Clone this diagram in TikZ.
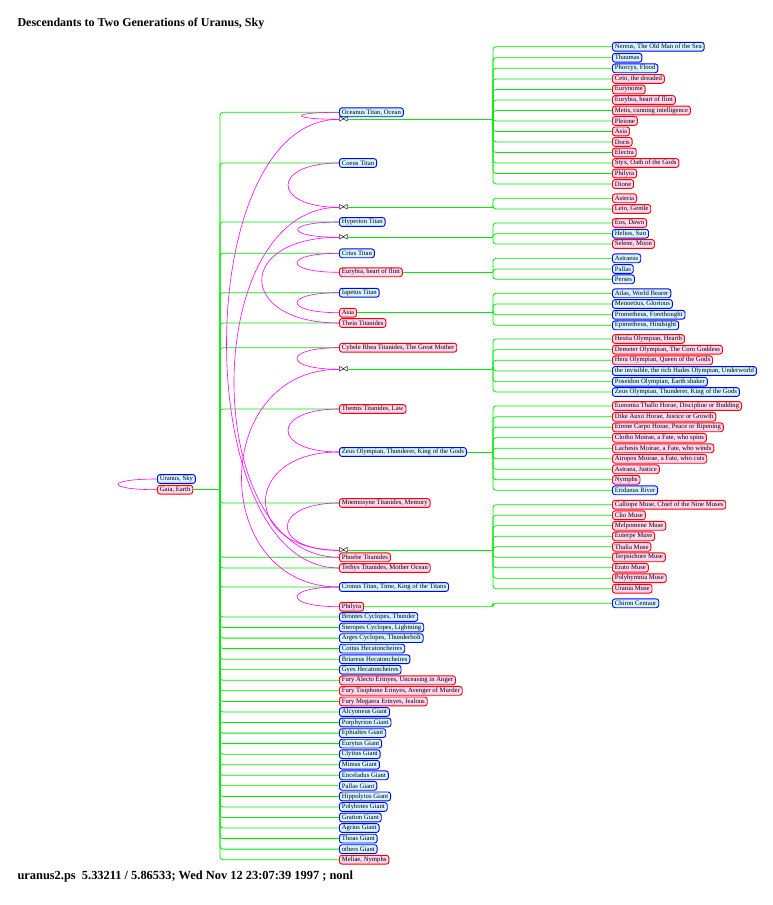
\documentclass[tikz,border=0pt]{standalone}
\usepackage{fontspec}
\setmainfont{Liberation Serif}
\usetikzlibrary{positioning}
\definecolor{skyfill}{RGB}{214,246,255}
\definecolor{earthfill}{RGB}{255,214,240}
\definecolor{kingreen}{RGB}{0,235,0}
\definecolor{matemag}{RGB}{255,0,255}
\tikzset{
  person/.style={anchor=west, rounded corners=2.5pt, line width=0.9pt, inner xsep=2.4pt, inner ysep=0pt, minimum height=8.8pt, font=\fontsize{6.7}{7}\selectfont},
  god/.style={person, draw=blue, fill=skyfill},
  goddess/.style={person, draw=red, fill=earthfill},
  wed/.style={anchor=west, inner sep=0pt, font=\fontsize{9.5}{9.5}\selectfont\boldmath},
  kin/.style={draw=kingreen, line width=0.8pt, rounded corners=3pt},
  mate/.style={draw=matemag, line width=0.6pt},
}

\begin{document}
\begin{tikzpicture}[x=1pt,y=-1pt]
                \def\rootx{220}
                \def\midx{339}
                \def\stemx{493}
                \def\farx{612}
                \useasboundingbox (0,0) rectangle (772,905);
                \node[anchor=base west, font=\bfseries\fontsize{12}{14}\selectfont] (title) at (14,26.7) {Descendants to Two Generations of Uranus, Sky};
                \node[anchor=base west, font=\bfseries\fontsize{12.4}{14}\selectfont] (stamp) at (14,879.3) {uranus2.ps\ \ 5.33211 / 5.86533; Wed Nov 12 23:07:39 1997 ; nonl};
                % first generation
                \node[god] (uranus) at (157,479) {Uranus, Sky};
                \node[goddess] (gaia) at (157,489.7) {Gaia, Earth};
                \coordinate (root) at (\rootx,489.7);
                % children of Uranus and Gaia
                \node[god] (oceanus) at (\midx,112.3) {Oceanus Titan, Ocean};
                \node[wed] (wOT) at (\midx,119.3) {$\bowtie$};
                \node[god] (coeus) at (\midx,163) {Coeus Titan};
                \node[wed] (wCP) at (\midx,207.3) {$\bowtie$};
                \node[god] (hyperion) at (\midx,222) {Hyperion Titan};
                \node[wed] (wHT) at (\midx,237.3) {$\bowtie$};
                \node[god] (crius) at (\midx,253.3) {Crius Titan};
                \node[goddess] (eurybia) at (\midx,272.3) {Eurybia, heart of flint};
                \node[god] (iapetus) at (\midx,292.7) {Iapetus Titan};
                \node[goddess] (asia) at (\midx,312.7) {Asia};
                \node[goddess] (theia) at (\midx,323) {Theia Titanides};
                \node[goddess] (rhea) at (\midx,347.7) {Cybele Rhea Titanides, The Great Mother};
                \node[wed] (wCR) at (\midx,369.3) {$\bowtie$};
                \node[goddess] (themis) at (\midx,409) {Themis Titanides, Law};
                \node[god] (zeus) at (\midx,452) {Zeus Olympian, Thunderer, King of the Gods};
                \node[goddess] (mnemosyne) at (\midx,503) {Mnemosyne Titanides, Memory};
                \node[wed] (wZM) at (\midx,550.3) {$\bowtie$};
                \node[goddess] (phoebe) at (\midx,557.3) {Phoebe Titanides};
                \node[goddess] (tethys) at (\midx,568) {Tethys Titanides, Mother Ocean};
                \node[god] (cronus) at (\midx,587) {Cronus Titan, Time, King of the Titans};
                \node[goddess] (philyra) at (\midx,606.7) {Philyra};
                \node[god] (brontes) at (\midx,617) {Brontes Cyclopes, Thunder};
                \node[god] (steropes) at (\midx,627.5) {Steropes Cyclopes, Lightning};
                \node[god] (arges) at (\midx,638.1) {Arges Cyclopes, Thunderbolt};
                \node[god] (cottus) at (\midx,648.6) {Cottus Hecatoncheires};
                \node[god] (briareus) at (\midx,659.2) {Briareus Hecatoncheires};
                \node[god] (gyes) at (\midx,669.7) {Gyes Hecatoncheires};
                \node[goddess] (alecto) at (\midx,680.3) {Fury Alecto Erinyes, Unceasing in Anger};
                \node[goddess] (tisiphone) at (\midx,690.8) {Fury Tisiphone Erinyes, Avenger of Murder};
                \node[goddess] (megaera) at (\midx,701.4) {Fury Megaera Erinyes, Jealous};
                \node[god] (alcyoneus) at (\midx,712) {Alcyoneus Giant};
                \node[god] (porphyrion) at (\midx,722.5) {Porphyrion Giant};
                \node[god] (ephialtes) at (\midx,733.1) {Ephialtes Giant};
                \node[god] (eurytus) at (\midx,743.6) {Eurytus Giant};
                \node[god] (clytius) at (\midx,754.2) {Clytius Giant};
                \node[god] (mimas) at (\midx,764.7) {Mimas Giant};
                \node[god] (enceladus) at (\midx,775.3) {Enceladus Giant};
                \node[god] (pallas) at (\midx,785.8) {Pallas Giant};
                \node[god] (hippolytus) at (\midx,796.4) {Hippolytus Giant};
                \node[god] (polybotes) at (\midx,806.9) {Polybotes Giant};
                \node[god] (gration) at (\midx,817.5) {Gration Giant};
                \node[god] (agrius) at (\midx,828) {Agrius Giant};
                \node[god] (thoas) at (\midx,838.6) {Thoas Giant};
                \node[god] (others) at (\midx,849.1) {others Giant};
                \node[goddess] (meliae) at (\midx,859.7) {Meliae, Nymphs};
                % grandchildren
                \node[god] (nereus) at (\farx,46.7) {Nereus, The Old Man of the Sea};
                \node[god] (thaumas) at (\farx,57.7) {Thaumas};
                \node[god] (phorcys) at (\farx,68.3) {Phorcys, Flood};
                \node[goddess] (ceto) at (\farx,78.9) {Ceto, the dreaded};
                \node[goddess] (eurynome) at (\farx,89.5) {Eurynome};
                \node[goddess] (eurybiaO) at (\farx,100) {Eurybia, heart of flint};
                \node[goddess] (metis) at (\farx,110.5) {Metis, cunning intelligence};
                \node[goddess] (pleione) at (\farx,120.9) {Pleione};
                \node[goddess] (asiaO) at (\farx,131.4) {Asia};
                \node[goddess] (doris) at (\farx,141.9) {Doris};
                \node[goddess] (electra) at (\farx,152.5) {Electra};
                \node[goddess] (styx) at (\farx,163) {Styx, Oath of the Gods};
                \node[goddess] (philyraO) at (\farx,173.5) {Philyra};
                \node[goddess] (dione) at (\farx,184) {Dione};
                \node[goddess] (asteria) at (\farx,198.3) {Asteria};
                \node[goddess] (leto) at (\farx,209) {Leto, Gentle};
                \node[goddess] (eos) at (\farx,223) {Eos, Dawn};
                \node[god] (helios) at (\farx,233.7) {Helios, Sun};
                \node[goddess] (selene) at (\farx,244) {Selene, Moon};
                \node[god] (astraeus) at (\farx,258.3) {Astraeus};
                \node[god] (pallasC) at (\farx,269) {Pallas};
                \node[god] (perses) at (\farx,279.3) {Perses};
                \node[god] (atlas) at (\farx,293.3) {Atlas, World Bearer};
                \node[god] (menoetius) at (\farx,304) {Menoetius, Glorious};
                \node[god] (prometheus) at (\farx,314.7) {Prometheus, Forethought};
                \node[god] (epimetheus) at (\farx,325.3) {Epimetheus, Hindsight};
                \node[goddess] (hestia) at (\farx,339) {Hestia Olympian, Hearth};
                \node[goddess] (demeter) at (\farx,349.7) {Demeter Olympian, The Corn Goddess};
                \node[goddess] (hera) at (\farx,360.3) {Hera Olympian, Queen of the Gods};
                \node[god] (hades) at (\farx,371) {the invisible, the rich Hades Olympian, Underworld};
                \node[god] (poseidon) at (\farx,381.7) {Poseidon Olympian, Earth shaker};
                \node[god] (zeusK) at (\farx,392) {Zeus Olympian, Thunderer, King of the Gods};
                \node[goddess] (eunomia) at (\farx,406) {Eunomia Thallo Horae, Discipline or Budding};
                \node[goddess] (dike) at (\farx,416.8) {Dike Auxo Horae, Justice or Growth};
                \node[goddess] (eirene) at (\farx,427.3) {Eirene Carpo Horae, Peace or Ripening};
                \node[goddess] (clotho) at (\farx,437.8) {Clotho Moirae, a Fate, who spins};
                \node[goddess] (lachesis) at (\farx,448.3) {Lachesis Moirae, a Fate, who winds};
                \node[goddess] (atropos) at (\farx,458.8) {Atropos Moirae, a Fate, who cuts};
                \node[goddess] (astraea) at (\farx,469.3) {Astraea, Justice};
                \node[goddess] (nymphs) at (\farx,479.8) {Nymphs};
                \node[god] (eridanus) at (\farx,490.3) {Eridanus River};
                \node[goddess] (calliope) at (\farx,504.7) {Calliope Muse, Chief of the Nine Muses};
                \node[goddess] (clio) at (\farx,515.2) {Clio Muse};
                \node[goddess] (melpomene) at (\farx,525.8) {Melpomene Muse};
                \node[goddess] (euterpe) at (\farx,536.3) {Euterpe Muse};
                \node[goddess] (thalia) at (\farx,546.8) {Thalia Muse};
                \node[goddess] (terpsichore) at (\farx,557.3) {Terpsichore Muse};
                \node[goddess] (erato) at (\farx,567.7) {Erato Muse};
                \node[goddess] (polyhymnia) at (\farx,578.2) {Polyhymnia Muse};
                \node[goddess] (urania) at (\farx,588.7) {Urania Muse};
                \node[god] (chiron) at (\farx,603.3) {Chiron Centaur};
                % stems
                \coordinate (sOT) at (\stemx,119.3);
                \coordinate (sCP) at (\stemx,207.3);
                \coordinate (sHT) at (\stemx,237.3);
                \coordinate (sCE) at (\stemx,272.3);
                \coordinate (sIA) at (\stemx,312.7);
                \coordinate (sCR) at (\stemx,369.3);
                \coordinate (sZT) at (\stemx,452);
                \coordinate (sZM) at (\stemx,550.3);
                \coordinate (sCP2) at (\stemx,606.7);
                % green lines, Uranus and Gaia
                \draw[kin] (gaia.east) -- (root);
                \foreach \kid in {oceanus,coeus,hyperion,crius,iapetus,theia,rhea,themis,mnemosyne,phoebe,tethys,cronus,brontes,steropes,arges,cottus,briareus,gyes,alecto,tisiphone,megaera,alcyoneus,porphyrion,ephialtes,eurytus,clytius,mimas,enceladus,pallas,hippolytus,polybotes,gration,agrius,thoas,others,meliae}
                    \draw[kin] (root) |- (\kid.west);
                % green lines, second generation
                \draw[kin] (wOT.east) -- (sOT);
                \foreach \kid in {nereus,thaumas,phorcys,ceto,eurynome,eurybiaO,metis,pleione,asiaO,doris,electra,styx,philyraO,dione}
                    \draw[kin] (sOT) |- (\kid.west);
                \draw[kin] (wCP.east) -- (sCP);
                \foreach \kid in {asteria,leto}
                    \draw[kin] (sCP) |- (\kid.west);
                \draw[kin] (wHT.east) -- (sHT);
                \foreach \kid in {eos,helios,selene}
                    \draw[kin] (sHT) |- (\kid.west);
                \draw[kin] (eurybia.east) -- (sCE);
                \foreach \kid in {astraeus,pallasC,perses}
                    \draw[kin] (sCE) |- (\kid.west);
                \draw[kin] (asia.east) -- (sIA);
                \foreach \kid in {atlas,menoetius,prometheus,epimetheus}
                    \draw[kin] (sIA) |- (\kid.west);
                \draw[kin] (wCR.east) -- (sCR);
                \foreach \kid in {hestia,demeter,hera,hades,poseidon,zeusK}
                    \draw[kin] (sCR) |- (\kid.west);
                \draw[kin] (zeus.east) -- (sZT);
                \foreach \kid in {eunomia,dike,eirene,clotho,lachesis,atropos,astraea,nymphs,eridanus}
                    \draw[kin] (sZT) |- (\kid.west);
                \draw[kin] (wZM.east) -- (sZM);
                \foreach \kid in {calliope,clio,melpomene,euterpe,thalia,terpsichore,erato,polyhymnia,urania}
                    \draw[kin] (sZM) |- (\kid.west);
                \draw[kin] (philyra.east) -- (sCP2) |- (chiron.west);
                % magenta lines, couples
                \draw[mate] (uranus.west) .. controls +(-52,0) and +(-52,0) .. (gaia.west);
                \draw[mate] (oceanus.west) .. controls +(-50,0) and +(-50,0) .. (wOT.west);
                \draw[mate] (tethys.west) .. controls +(-150,0) and +(-150,0) .. (wOT.west);
                \draw[mate] (coeus.west) .. controls +(-68,0) and +(-68,0) .. (wCP.west);
                \draw[mate] (phoebe.west) .. controls +(-140,0) and +(-140,0) .. (wCP.west);
                \draw[mate] (hyperion.west) .. controls +(-55,0) and +(-55,0) .. (wHT.west);
                \draw[mate] (theia.west) .. controls +(-103,0) and +(-103,0) .. (wHT.west);
                \draw[mate] (crius.west) .. controls +(-56,0) and +(-56,0) .. (eurybia.west);
                \draw[mate] (iapetus.west) .. controls +(-56,0) and +(-56,0) .. (asia.west);
                \draw[mate] (rhea.west) .. controls +(-56,0) and +(-56,0) .. (wCR.west);
                \draw[mate] (cronus.west) .. controls +(-130,0) and +(-130,0) .. (wCR.west);
                \draw[mate] (themis.west) .. controls +(-68,0) and +(-68,0) .. (zeus.west);
                \draw[mate] (zeus.west) .. controls +(-98,0) and +(-98,0) .. (wZM.west);
                \draw[mate] (mnemosyne.west) .. controls +(-69,0) and +(-69,0) .. (wZM.west);
                \draw[mate] (cronus.west) .. controls +(-56,0) and +(-56,0) .. (philyra.west);
\end{tikzpicture}
\end{document}
